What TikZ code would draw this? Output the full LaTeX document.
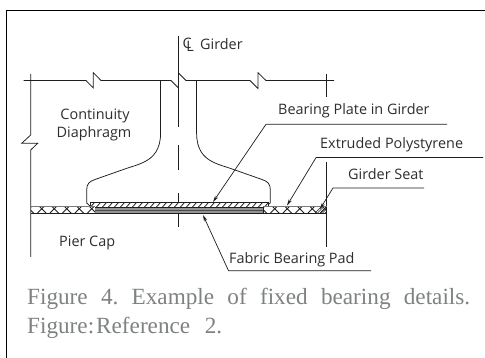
\documentclass[tikz,border=0pt]{standalone}
\usepackage{fontspec}
\setmainfont{Liberation Serif}
\newfontfamily\lblfont{Open Sans}
\usetikzlibrary{arrows.meta}
\definecolor{lblc}{HTML}{2E2E2E}
\definecolor{capc}{HTML}{7F8282}
\definecolor{linec}{HTML}{1E1E1E}
\tikzset{
  frameline/.style={line width=1.1pt,black},
  dwg/.style={line width=.75pt,linec,line join=miter},
  leader/.style={line width=.7pt,linec,-{Stealth[length=6.5pt,width=3.4pt]}},
  lbl/.style={font=\lblfont\fontsize{14.4}{16}\selectfont,text=lblc,inner sep=0pt,anchor=west},
  captext/.style={font=\fontsize{23.2}{28}\selectfont,text=capc,inner sep=0pt,anchor=base west},
}
\begin{document}
\begin{tikzpicture}[x=1pt,y=-1pt]
\useasboundingbox (0,0) rectangle (485,358);
\fill[white] (0,0) rectangle (485,358);
% frame
\draw[frameline] (6.5,358) -- (6.5,10.5) -- (485,10.5);
% centreline
\draw[dwg] (178.5,36) -- (178.5,127);
\draw[dwg] (178.5,145) -- (178.5,170);
\draw[dwg] (178.5,193) -- (178.5,227);
% top cut line with breaks
\draw[dwg] (23.5,80.5) -- (86,80.5) -- (93.3,88) -- (93.3,72.7) -- (101,80.5) -- (171,80.5) -- (178.5,88);
\draw[dwg] (178.5,73) -- (186,80.5) -- (250,80.5) -- (258,88.5) -- (258,72.7) -- (266,80.5) -- (334,80.5);
% left cut line
\draw[dwg] (30.7,74) -- (30.7,135) -- (21.7,143.3) -- (37.7,143.3) -- (30.7,150) -- (30.7,257);
% right vertical
\draw[dwg] (326.8,74) -- (326.8,97);
\draw[dwg] (326.8,162) -- (326.8,247);
% girder outline
\draw[dwg] (160.6,80.5) -- (160.6,133) .. controls (160.6,150) and (153,157) .. (146,161)
  .. controls (139,165) and (130,167) .. (124,169.3) -- (95,179.5)
  .. controls (89,181.5) and (86.7,184) .. (86.7,190) -- (86.7,203) -- (90,206);
\draw[dwg] (196.6,80.5) -- (196.6,133) .. controls (196.6,150) and (204,157) .. (211,161)
  .. controls (218,165) and (227,167) .. (233,169.3) -- (262,179.5)
  .. controls (268,181.5) and (270.3,184) .. (270.3,190) -- (270.3,203) -- (266,206);
% bearing plate (hatched)
\fill[white] (90,202.5) rectangle (268,207);
\begin{scope}
\clip (90,202.5) rectangle (268,207);
\foreach \x in {92,98,...,272}{
  \draw[line width=.8pt,linec] (\x-1.5,207) -- (\x+2.5,202.5);
}
\end{scope}
\draw[line width=.9pt,linec] (90,202.5) -- (268,202.5);
\draw[line width=.6pt,linec] (90,202.5) -- (90,207);
\draw[line width=.6pt,linec] (268,202.5) -- (268,207);
% fabric pad
\fill[gray!85] (95,207) rectangle (263,213);
\draw[line width=.8pt,linec] (95,207.3) -- (263,207.3);
\draw[line width=.5pt,linec!80] (95,209.8) -- (263,209.8);
\draw[line width=.9pt,linec] (95,213) -- (263,213);
\draw[line width=.5pt,linec] (263,207) -- (263,213);
% polystyrene left
\begin{scope}
\clip (31,206.5) rectangle (95,213);
\foreach \x in {25,37.5,...,100}{
  \draw[line width=.8pt,linec] (\x,213) -- (\x+8,205);
  \draw[line width=.8pt,linec] (\x+1,205.5) -- (\x+9,213.5);
}
\end{scope}
\draw[line width=.4pt,linec!60] (31,206.3) -- (95,206.3);
\draw[line width=.9pt,linec] (31,213) -- (95,213);
% polystyrene right
\begin{scope}
\clip (263,206.5) rectangle (326.8,213);
\foreach \x in {258,270.5,...,330}{
  \draw[line width=.8pt,linec] (\x,213) -- (\x+8,205);
  \draw[line width=.8pt,linec] (\x+1,205.5) -- (\x+9,213.5);
}
\foreach \x in {315,317.5,...,327}{
  \draw[line width=.7pt,linec] (\x,213) -- (\x+7,206);
}
\end{scope}
\draw[line width=.4pt,linec!60] (263,206.3) -- (326.8,206.3);
\draw[line width=.9pt,linec] (263,213) -- (326.8,213);
% labels
\node[lbl] (cl) at (182.4,45) {C\kern-5.4pt\raisebox{-3.4pt}{L}};
\node[lbl] (girder) at (200,44) {Girder};
\node[lbl,anchor=center] (cont) at (95,116) {Continuity};
\node[lbl,anchor=center] (diaph) at (94,134) {Diaphragm};
\node[lbl] (pier) at (59,243) {Pier Cap};
\node[lbl] (plate) at (278,110.5) {Bearing Plate in Girder};
\node[lbl] (xps) at (320,144.5) {Extruded Polystyrene};
\node[lbl] (seat) at (348,174.5) {Girder Seat};
\node[lbl] (pad) at (229,260) {Fabric Bearing Pad};
% leader targets
\coordinate (plateT) at (213,202);
\coordinate (xpsT) at (287,205.5);
\coordinate (seatT) at (320,209);
\coordinate (padT) at (203,215);
\coordinate (plateK) at (266,124.3);
\coordinate (plateE) at (447,124.3);
\coordinate (xpsK) at (316,157.6);
\coordinate (xpsE) at (483,157.6);
\coordinate (seatK) at (333,188);
\coordinate (seatE) at (424,188);
\coordinate (padK) at (228.5,270.7);
\coordinate (padE) at (371,270.7);
\draw[leader] (plateE) -- (plateK) -- (plateT);
\draw[leader] (xpsE) -- (xpsK) -- (xpsT);
\draw[leader] (seatE) -- (seatK) -- (seatT);
\draw[leader] (padE) -- (padK) -- (padT);
% caption
\node[captext] (cap1) at (27,305) {\makebox[443pt][s]{Figure\hfil\hfil 4.\hfil\hfil Example\hfil\hfil of\hfil\hfil fixed\hfil\hfil bearing\hfil\hfil details.}};
\node[captext] (cap2) at (27,333.3) {\makebox[195pt][s]{Figure:\kern2pt Reference\hfil 2.}};
\end{tikzpicture}
\end{document}
